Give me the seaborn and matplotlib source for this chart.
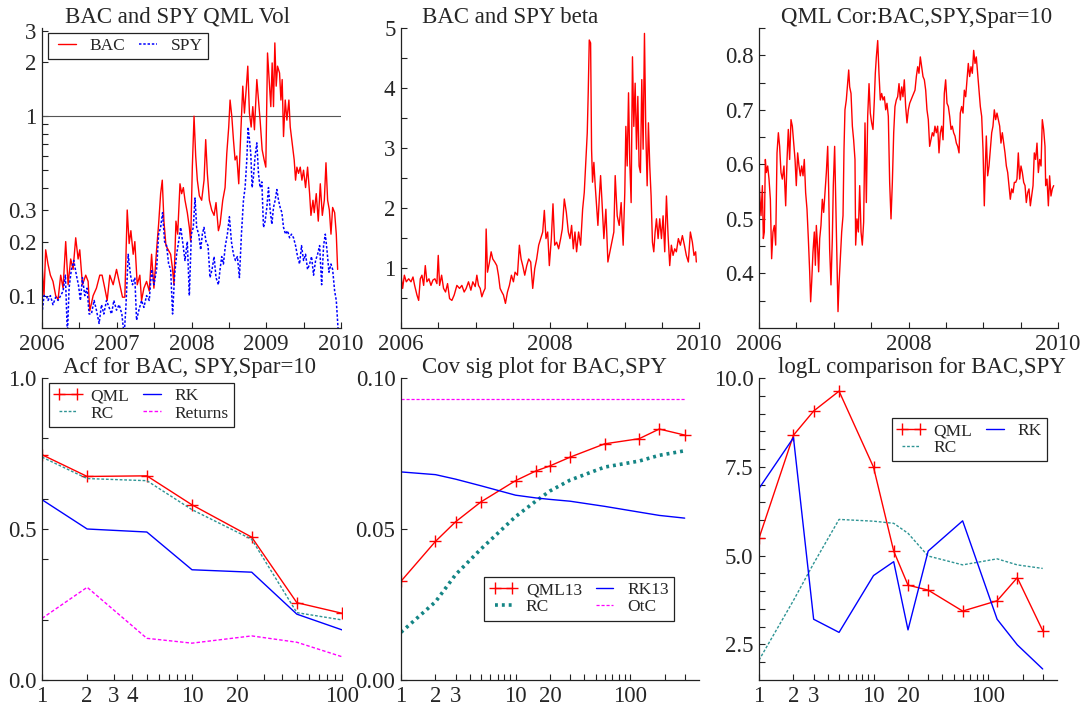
import numpy as np
import pandas as pd
import matplotlib
matplotlib.use("Agg")
import matplotlib.pyplot as plt
import seaborn as sns
from matplotlib.ticker import FixedLocator, FixedFormatter, NullFormatter

sns.set_style("ticks")
plt.rcParams['font.family'] = ['Liberation Serif', 'DejaVu Serif']

# ---------------- data: top row (time in years since start of 2006) ----------------
bac_t = [0.000,0.027,0.049,0.080,0.112,0.147,0.183,0.215,0.250,0.282,
         0.317,0.349,0.384,0.416,0.451,0.483,0.505,0.541,0.585,0.617,
         0.639,0.684,0.728,0.773,0.804,0.840,0.872,0.907,0.952,0.997,
         1.032,1.077,1.108,1.140,1.166,1.189,1.220,1.242,1.274,1.309,
         1.332,1.363,1.399,1.435,1.466,1.497,1.533,1.560,1.587,1.609,
         1.631,1.658,1.689,1.721,1.747,1.765,1.792,1.815,1.846,1.868,
         1.891,1.913,1.944,1.971,1.989,2.011,2.034,2.056,2.078,2.105,
         2.136,2.168,2.190,2.212,2.239,2.270,2.302,2.328,2.360,2.382,
         2.418,2.449,2.472,2.498,2.516,2.539,2.561,2.583,2.606,2.632,
         2.659,2.686,2.708,2.731,2.753,2.775,2.798,2.820,2.842,2.874,
         2.896,2.918,2.945,2.972,2.994,3.017,3.039,3.061,3.079,3.097,
         3.115,3.133,3.151,3.178,3.196,3.213,3.231,3.254,3.276,3.303,
         3.321,3.347,3.374,3.392,3.410,3.432,3.455,3.477,3.499,3.526,
         3.553,3.580,3.598,3.625,3.642,3.669,3.696,3.723,3.750,3.777,
         3.799,3.821,3.844,3.866,3.888,3.915,3.937,3.955]
bac_vol = [0.150,0.10,0.18,0.15,0.13,0.12,0.10,0.095,0.13,0.11,
           0.20,0.115,0.16,0.14,0.21,0.16,0.18,0.115,0.13,0.12,
           0.082,0.10,0.11,0.13,0.13,0.11,0.094,0.13,0.115,0.14,
           0.12,0.098,0.098,0.30,0.195,0.23,0.17,0.20,0.115,0.13,
           0.094,0.11,0.12,0.106,0.17,0.11,0.18,0.25,0.37,0.44,
           0.26,0.19,0.18,0.17,0.14,0.115,0.26,0.22,0.42,0.37,
           0.40,0.34,0.29,0.24,0.20,0.52,1.0,0.60,0.44,0.36,
           0.34,0.44,0.74,0.48,0.34,0.30,0.28,0.33,0.23,0.25,
           0.34,0.40,0.62,0.87,1.23,1.0,0.74,0.57,0.60,0.42,
           0.80,1.47,1.04,1.40,1.90,1.04,0.87,1.13,0.84,1.60,
           1.23,0.95,0.65,0.57,0.52,2.25,1.60,1.13,1.98,1.13,
           2.56,1.47,1.90,1.74,1.23,1.60,0.77,1.23,0.95,1.23,
           0.87,0.71,0.57,0.44,0.52,0.48,0.52,0.44,0.50,0.40,
           0.52,0.37,0.28,0.34,0.29,0.37,0.26,0.42,0.28,0.34,
           0.55,0.34,0.30,0.22,0.31,0.29,0.22,0.14]

spy_t = [0.000,0.027,0.058,0.080,0.112,0.147,0.183,0.215,0.250,0.282,
         0.313,0.340,0.362,0.393,0.425,0.460,0.487,0.514,0.541,0.572,
         0.603,0.630,0.661,0.697,0.728,0.764,0.796,0.827,0.863,0.898,
         0.930,0.961,0.997,1.032,1.068,1.099,1.122,1.153,1.184,1.211,
         1.242,1.265,1.296,1.332,1.363,1.399,1.435,1.466,1.497,1.533,
         1.560,1.587,1.613,1.640,1.667,1.694,1.721,1.747,1.774,1.801,
         1.828,1.855,1.881,1.913,1.944,1.971,1.998,2.024,2.047,2.069,
         2.096,2.123,2.145,2.167,2.194,2.221,2.248,2.275,2.302,2.328,
         2.360,2.382,2.404,2.427,2.453,2.480,2.507,2.534,2.561,2.588,
         2.614,2.641,2.668,2.695,2.717,2.740,2.757,2.775,2.793,2.811,
         2.829,2.851,2.874,2.896,2.918,2.941,2.963,2.985,3.008,3.030,
         3.052,3.075,3.097,3.119,3.142,3.164,3.186,3.209,3.231,3.258,
         3.285,3.312,3.338,3.365,3.392,3.419,3.446,3.472,3.499,3.526,
         3.553,3.580,3.606,3.633,3.660,3.687,3.714,3.741,3.767,3.790,
         3.812,3.839,3.866,3.888,3.915,3.937,3.960]
spy_vol = [0.079,0.10,0.10,0.094,0.10,0.089,0.098,0.094,0.10,0.106,
           0.13,0.060,0.11,0.14,0.157,0.13,0.115,0.094,0.126,0.10,
           0.11,0.079,0.079,0.094,0.083,0.070,0.089,0.079,0.094,0.086,
           0.079,0.094,0.083,0.089,0.079,0.060,0.086,0.17,0.13,0.115,
           0.126,0.073,0.083,0.094,0.086,0.10,0.094,0.14,0.115,0.14,
           0.22,0.24,0.29,0.20,0.19,0.15,0.14,0.079,0.13,0.17,
           0.20,0.24,0.20,0.157,0.20,0.10,0.22,0.24,0.35,0.24,
           0.22,0.18,0.22,0.24,0.20,0.19,0.126,0.14,0.165,0.126,
           0.115,0.14,0.165,0.15,0.19,0.22,0.275,0.20,0.17,0.157,
           0.165,0.126,0.22,0.34,0.40,0.57,0.87,0.74,0.62,0.40,
           0.46,0.60,0.71,0.48,0.40,0.43,0.24,0.26,0.31,0.40,
           0.30,0.25,0.31,0.34,0.39,0.34,0.31,0.29,0.24,0.22,
           0.23,0.21,0.22,0.21,0.19,0.165,0.15,0.19,0.157,0.17,
           0.14,0.15,0.165,0.13,0.157,0.17,0.19,0.115,0.19,0.22,
           0.18,0.135,0.15,0.14,0.106,0.094,0.066]

beta_t = [0.000,0.022,0.045,0.071,0.103,0.134,0.161,0.183,0.214,0.237,
          0.259,0.281,0.304,0.326,0.348,0.375,0.402,0.429,0.455,0.482,
          0.500,0.518,0.545,0.571,0.598,0.625,0.652,0.683,0.714,0.750,
          0.786,0.817,0.848,0.875,0.906,0.938,0.964,0.996,1.018,1.040,
          1.063,1.085,1.107,1.129,1.143,1.161,1.188,1.210,1.232,1.259,
          1.286,1.308,1.330,1.353,1.375,1.402,1.429,1.455,1.482,1.509,
          1.531,1.563,1.589,1.612,1.634,1.661,1.688,1.714,1.741,1.768,
          1.795,1.821,1.848,1.875,1.902,1.924,1.946,1.969,1.991,2.018,
          2.040,2.063,2.089,2.116,2.143,2.165,2.192,2.219,2.246,2.268,
          2.290,2.313,2.335,2.357,2.384,2.411,2.438,2.460,2.482,2.500,
          2.513,2.527,2.545,2.558,2.571,2.589,2.607,2.625,2.643,2.661,
          2.679,2.696,2.723,2.750,2.777,2.804,2.830,2.857,2.875,2.902,
          2.929,2.955,2.982,3.004,3.018,3.036,3.054,3.071,3.089,3.107,
          3.125,3.143,3.161,3.179,3.196,3.214,3.232,3.250,3.268,3.286,
          3.304,3.321,3.339,3.357,3.375,3.393,3.411,3.429,3.451,3.473,
          3.496,3.518,3.540,3.563,3.585,3.607,3.629,3.652,3.674,3.696,
          3.723,3.750,3.777,3.804,3.830,3.857,3.884,3.911,3.933,3.955,
          3.964]
beta_val = [0.88,0.66,0.88,0.77,0.82,0.77,0.85,0.71,0.55,0.46,
            0.82,0.88,0.71,1.04,0.77,0.82,0.71,0.80,0.82,0.74,
            1.21,0.71,0.88,0.66,0.60,0.74,0.49,0.46,0.55,0.71,
            0.66,0.71,0.60,0.66,0.77,0.63,0.77,0.69,0.88,0.71,
            0.66,0.52,0.60,0.66,1.65,0.93,1.10,1.27,1.15,1.10,
            1.04,0.88,0.66,0.60,0.55,0.41,0.60,0.71,0.88,0.77,
            0.93,0.88,1.38,1.15,1.04,0.88,1.04,1.15,1.10,0.66,
            0.99,1.15,1.38,1.49,1.60,1.96,1.49,1.60,1.04,1.49,
            2.07,1.38,1.43,1.32,1.49,1.65,2.15,1.93,1.60,1.49,
            1.71,1.32,1.60,1.27,1.60,1.38,1.98,2.26,2.81,3.25,
            3.92,4.80,4.75,2.98,2.43,2.76,2.37,2.04,1.71,2.15,
            2.54,2.15,1.49,1.98,1.10,1.27,1.43,1.60,2.54,1.87,
            1.71,2.09,1.38,2.26,3.36,2.70,3.92,2.76,2.09,4.52,
            3.36,4.08,2.98,3.86,2.70,2.59,4.14,2.98,4.91,3.25,
            2.37,3.42,2.70,2.20,1.43,1.27,1.60,1.82,1.49,1.82,
            1.49,1.87,1.27,2.20,1.54,1.04,1.38,1.21,1.32,1.27,
            1.49,1.38,1.54,1.38,1.21,1.10,1.60,1.43,1.21,1.27,
            1.10]

cor_t = [0.000,0.013,0.027,0.045,0.058,0.071,0.085,0.098,0.116,0.134,
         0.152,0.169,0.187,0.205,0.223,0.241,0.259,0.276,0.294,0.312,
         0.334,0.357,0.375,0.392,0.410,0.428,0.446,0.464,0.482,0.499,
         0.517,0.535,0.553,0.571,0.589,0.606,0.624,0.642,0.660,0.678,
         0.691,0.705,0.722,0.740,0.754,0.767,0.785,0.798,0.812,0.829,
         0.847,0.865,0.883,0.901,0.919,0.932,0.945,0.963,0.981,0.994,
         1.012,1.026,1.043,1.057,1.070,1.088,1.106,1.124,1.137,1.150,
         1.168,1.186,1.200,1.213,1.231,1.249,1.266,1.284,1.293,1.311,
         1.329,1.347,1.365,1.382,1.400,1.418,1.436,1.454,1.472,1.489,
         1.507,1.525,1.543,1.556,1.570,1.588,1.605,1.623,1.641,1.659,
         1.677,1.695,1.712,1.730,1.748,1.766,1.784,1.802,1.819,1.837,
         1.855,1.873,1.891,1.909,1.926,1.944,1.962,1.980,1.998,2.016,
         2.033,2.051,2.069,2.087,2.105,2.123,2.140,2.158,2.176,2.194,
         2.212,2.230,2.247,2.265,2.283,2.301,2.319,2.337,2.354,2.372,
         2.390,2.408,2.426,2.444,2.462,2.479,2.497,2.515,2.533,2.551,
         2.569,2.586,2.604,2.622,2.640,2.658,2.676,2.693,2.711,2.729,
         2.747,2.765,2.783,2.800,2.818,2.836,2.854,2.872,2.890,2.907,
         2.925,2.943,2.961,2.979,2.997,3.014,3.028,3.041,3.059,3.077,
         3.095,3.113,3.130,3.148,3.166,3.184,3.202,3.220,3.237,3.255,
         3.273,3.291,3.309,3.327,3.344,3.362,3.380,3.398,3.416,3.434,
         3.451,3.469,3.487,3.505,3.523,3.541,3.559,3.576,3.594,3.612,
         3.630,3.648,3.666,3.683,3.701,3.719,3.737,3.755,3.773,3.790,
         3.808,3.826,3.835,3.853,3.871,3.888,3.906,3.924,3.942]
cor_val = [0.570,0.536,0.506,0.561,0.464,0.476,0.609,0.585,0.597,0.573,
           0.536,0.427,0.476,0.488,0.452,0.621,0.658,0.633,0.585,0.573,
           0.597,0.524,0.609,0.664,0.609,0.682,0.670,0.639,0.609,0.561,
           0.621,0.597,0.579,0.597,0.579,0.609,0.548,0.518,0.464,0.403,
           0.348,0.385,0.439,0.476,0.415,0.488,0.445,0.403,0.464,0.488,
           0.536,0.512,0.548,0.585,0.633,0.555,0.445,0.379,0.464,0.561,
           0.633,0.536,0.415,0.330,0.379,0.427,0.476,0.506,0.627,0.700,
           0.718,0.748,0.773,0.742,0.730,0.670,0.645,0.609,0.452,0.500,
           0.476,0.561,0.476,0.452,0.494,0.676,0.530,0.688,0.748,0.694,
           0.676,0.664,0.718,0.767,0.797,0.827,0.767,0.718,0.730,0.718,
           0.724,0.700,0.712,0.688,0.567,0.500,0.567,0.658,0.706,0.718,
           0.724,0.748,0.718,0.742,0.724,0.755,0.706,0.676,0.700,0.712,
           0.718,0.724,0.730,0.736,0.761,0.779,0.767,0.797,0.779,0.761,
           0.755,0.736,0.700,0.682,0.633,0.645,0.658,0.652,0.670,0.658,
           0.670,0.621,0.658,0.670,0.645,0.730,0.755,0.712,0.706,0.688,
           0.664,0.670,0.658,0.652,0.639,0.633,0.621,0.694,0.706,0.694,
           0.736,0.724,0.755,0.785,0.761,0.779,0.767,0.809,0.785,0.797,
           0.767,0.736,0.706,0.688,0.627,0.524,0.597,0.652,0.579,0.597,
           0.627,0.658,0.670,0.700,0.682,0.694,0.682,0.670,0.639,0.658,
           0.639,0.621,0.597,0.585,0.561,0.536,0.555,0.548,0.567,0.567,
           0.573,0.621,0.573,0.597,0.585,0.567,0.561,0.530,0.548,0.555,
           0.524,0.542,0.561,0.621,0.609,0.639,0.585,0.609,0.597,0.682,
           0.664,0.633,0.561,0.573,0.524,0.579,0.542,0.555,0.561]

# ---------------- data: bottom row ----------------
acf_lags = [1, 2, 5, 10, 25, 50, 100]
acf_qml = [0.746, 0.674, 0.676, 0.580, 0.473, 0.256, 0.221]
acf_rc = [0.738, 0.667, 0.660, 0.564, 0.466, 0.223, 0.199]
acf_rk = [0.597, 0.500, 0.490, 0.365, 0.357, 0.218, 0.166]
acf_ret = [0.204, 0.307, 0.138, 0.122, 0.146, 0.125, 0.077]

sig_freq = [1, 2, 3, 5, 10, 15, 20, 30, 60, 120, 180, 300]
sig_qml13 = [0.0327, 0.0459, 0.0524, 0.0590, 0.0660, 0.0692, 0.0709, 0.0738, 0.0782, 0.0799, 0.0831, 0.0811]
sig_rk13 = [0.0689, 0.0680, 0.0665, 0.0643, 0.0612, 0.0603, 0.0598, 0.0592, 0.0575, 0.0556, 0.0545, 0.0536]
sig_rc = [0.0158, 0.0259, 0.0349, 0.0434, 0.0541, 0.0592, 0.0626, 0.0662, 0.0705, 0.0725, 0.0744, 0.0759]
sig_otc = [0.0930] * len(sig_freq)

logl_freq = [1, 2, 3, 5, 10, 15, 20, 30, 60, 120, 180, 300]
logl_qml = [5.49, 8.39, 9.07, 9.63, 7.49, 5.13, 4.17, 4.03, 3.44, 3.73, 4.38, 2.89]
logl_rk = [6.89, 8.32, 3.21, 2.84, 4.44, 4.83, 2.91, 5.13, 5.98, 3.21, 2.49, 1.81]
logl_rc = [2.06, 3.74, 4.78, 6.02, 5.97, 5.91, 5.63, 4.99, 4.74, 4.91, 4.74, 4.64]

assert len(bac_t) == len(bac_vol) and len(spy_t) == len(spy_vol)
assert len(beta_t) == len(beta_val) and len(cor_t) == len(cor_val)

# ---------------- layout ----------------
W, H = 1087, 706
fig = plt.figure(figsize=(W / 100, H / 100), dpi=100)

def add_ax(l, r, t, b):
    return fig.add_axes([l / W, 1 - b / H, (r - l) / W, (b - t) / H])

RED, BLUE, MAG, TEAL = '#FF0000', '#0000FF', '#FF00FF', '#2E9494'
TICK_FS, TITLE_FS, LEG_FS = 16.5, 16.5, 12.5

def style(ax, title, tx=0.5):
    for s in ['top', 'right']:
        ax.spines[s].set_visible(False)
    for s in ['left', 'bottom']:
        ax.spines[s].set_linewidth(0.9)
        ax.spines[s].set_color('#222222')
    ax.tick_params(which='both', direction='in', length=4, width=0.8,
                   labelsize=TICK_FS, pad=4, color='#222222')
    ax.set_xlabel('')
    ax.set_ylabel('')
    ax.set_title(title, fontsize=TITLE_FS, pad=3, x=tx)

def set_ticks(axis, major, labels, minor=None):
    axis.set_major_locator(FixedLocator(major))
    axis.set_major_formatter(FixedFormatter(labels))
    axis.set_minor_locator(FixedLocator(minor if minor is not None else []))
    axis.set_minor_formatter(NullFormatter())

def legend(ax, anchor, ncol=2):
    leg = ax.legend(loc='upper left', bbox_to_anchor=anchor, ncol=ncol, fontsize=LEG_FS,
                    frameon=True, fancybox=False, framealpha=1, edgecolor='#222222',
                    handlelength=1.6, handletextpad=0.5, columnspacing=0.5, numpoints=2,
                    labelspacing=0.05, borderpad=0.3, borderaxespad=0.0)
    leg.get_frame().set_linewidth(0.9)
    return leg

half_years = [2006.5, 2007.5, 2008.5, 2009.5]
plus = dict(marker='+', markersize=9, markeredgewidth=1.0)

# Panel 1: QML vol
ax1 = add_ax(42, 341, 28, 328)
ax1.set_yscale('log')
ax1.axhline(1.0, color='#555555', lw=0.8)
sns.lineplot(x=2006 + np.array(bac_t), y=bac_vol, ax=ax1, color=RED, linewidth=1.0,
             label='BAC', estimator=None, sort=False)
sns.lineplot(x=2006 + np.array(spy_t), y=spy_vol, ax=ax1, color=BLUE, linewidth=1.1,
             linestyle=(0, (1.6, 1.2)), label='SPY', estimator=None, sort=False)
ax1.set_xlim(2006, 2010)
ax1.set_ylim(0.066, 3.1)
style(ax1, 'BAC and SPY QML Vol', 0.452)
set_ticks(ax1.yaxis, [0.1, 0.2, 0.3, 1, 2, 3], ['0.1', '0.2', '0.3', '1', '2', '3'],
          [0.4, 0.5, 0.6, 0.7, 0.8, 0.9])
set_ticks(ax1.xaxis, [2006, 2007, 2008, 2009, 2010], ['2006', '2007', '2008', '2009', '2010'], half_years)
legend(ax1, (0.02, 0.985))

# Panel 2: beta
ax2 = add_ax(401, 699, 28, 328)
sns.lineplot(x=2006 + np.array(beta_t), y=beta_val, ax=ax2, color=RED, linewidth=1.0,
             estimator=None, sort=False, legend=False)
ax2.set_xlim(2006, 2010)
ax2.set_ylim(0, 5)
style(ax2, 'BAC and SPY beta', 0.366)
set_ticks(ax2.yaxis, [1, 2, 3, 4, 5], ['1', '2', '3', '4', '5'], [0.5, 1.5, 2.5, 3.5, 4.5])
set_ticks(ax2.xaxis, [2006, 2008, 2010], ['2006', '2008', '2010'], [2006.5, 2007, 2007.5, 2008.5, 2009, 2009.5])

# Panel 3: correlation
ax3 = add_ax(759, 1058, 28, 328)
sns.lineplot(x=2006 + np.array(cor_t), y=cor_val, ax=ax3, color=RED, linewidth=1.0,
             estimator=None, sort=False, legend=False)
ax3.set_xlim(2006, 2010)
ax3.set_ylim(0.3, 0.85)
style(ax3, 'QML Cor:BAC,SPY,Spar=10', 0.528)
set_ticks(ax3.yaxis, [0.4, 0.5, 0.6, 0.7, 0.8], ['0.4', '0.5', '0.6', '0.7', '0.8'],
          [0.35, 0.45, 0.55, 0.65, 0.75, 0.85])
set_ticks(ax3.xaxis, [2006, 2008, 2010], ['2006', '2008', '2010'], [2006.5, 2007, 2007.5, 2008.5, 2009, 2009.5])

# Panel 4: ACF
ax4 = add_ax(42, 342, 378, 680)
ax4.set_xscale('log')
sns.lineplot(x=acf_lags, y=acf_qml, ax=ax4, color=RED, linewidth=1.0, markeredgecolor=RED, **plus,
             label='QML', estimator=None, sort=False)
sns.lineplot(x=acf_lags, y=acf_rc, ax=ax4, color=TEAL, linewidth=1.0, linestyle=(0, (2, 1.3)),
             label='RC', estimator=None, sort=False)
sns.lineplot(x=acf_lags, y=acf_rk, ax=ax4, color=BLUE, linewidth=1.0,
             label='RK', estimator=None, sort=False)
sns.lineplot(x=acf_lags, y=acf_ret, ax=ax4, color=MAG, linewidth=1.0, linestyle=(0, (2.5, 1.5)),
             label='Returns', estimator=None, sort=False)
ax4.set_xlim(1, 100)
ax4.set_ylim(0, 1)
style(ax4, 'Acf for BAC, SPY,Spar=10', 0.493)
set_ticks(ax4.yaxis, [0.0, 0.5, 1.0], ['0.0', '0.5', '1.0'], [0.2, 0.4, 0.6, 0.8])
set_ticks(ax4.xaxis, [1, 2, 3, 4, 10, 20, 100], ['1', '2', '3', '4', '10', '20', '100'],
          [5, 6, 7, 8, 9, 30, 40, 50, 60, 70, 80, 90])
legend(ax4, (0.023, 0.983))

# Panel 5: covariance signature plot
ax5 = add_ax(401, 699, 378, 680)
ax5.set_xscale('log')
sns.lineplot(x=sig_freq, y=sig_qml13, ax=ax5, color=RED, linewidth=1.0, markeredgecolor=RED, **plus,
             label='QML13', estimator=None, sort=False)
sns.lineplot(x=sig_freq, y=sig_rc, ax=ax5, color='#148585', linewidth=2.6, linestyle=(0, (0.8, 1.1)),
             label='RC', estimator=None, sort=False)
sns.lineplot(x=sig_freq, y=sig_rk13, ax=ax5, color=BLUE, linewidth=1.0,
             label='RK13', estimator=None, sort=False)
sns.lineplot(x=sig_freq, y=sig_otc, ax=ax5, color=MAG, linewidth=0.9, linestyle=(0, (2.5, 1.5)),
             label='OtC', estimator=None, sort=False)
ax5.set_xlim(1, 400)
ax5.set_ylim(0, 0.1)
style(ax5, 'Cov sig plot for BAC,SPY', 0.480)
set_ticks(ax5.yaxis, [0.0, 0.05, 0.10], ['0.00', '0.05', '0.10'])
set_ticks(ax5.xaxis, [1, 2, 3, 10, 20, 100], ['1', '2', '3', '10', '20', '100'],
          [4, 5, 6, 7, 8, 9, 30, 40, 50, 60, 70, 80, 90, 200, 300])
legend(ax5, (0.279, 0.341))

# Panel 6: logL comparison
ax6 = add_ax(759, 1057, 378, 680)
ax6.set_xscale('log')
sns.lineplot(x=logl_freq, y=logl_qml, ax=ax6, color=RED, linewidth=1.0, markeredgecolor=RED, **plus,
             label='QML', estimator=None, sort=False)
sns.lineplot(x=logl_freq, y=logl_rc, ax=ax6, color=TEAL, linewidth=1.0, linestyle=(0, (2, 1.3)),
             label='RC', estimator=None, sort=False)
sns.lineplot(x=logl_freq, y=logl_rk, ax=ax6, color=BLUE, linewidth=1.0,
             label='RK', estimator=None, sort=False)
ax6.set_xlim(1, 400)
ax6.set_ylim(1.5, 10)
style(ax6, 'logL comparison for BAC,SPY', 0.547)
set_ticks(ax6.yaxis, [2.5, 5.0, 7.5, 10.0], ['2.5', '5.0', '7.5', '10.0'],
          [2.0, 3.0, 3.5, 4.0, 4.5, 5.5, 6.0, 6.5, 7.0, 8.0, 8.5, 9.0, 9.5])
set_ticks(ax6.xaxis, [1, 2, 3, 10, 20, 100], ['1', '2', '3', '10', '20', '100'],
          [4, 5, 6, 7, 8, 9, 30, 40, 50, 60, 70, 80, 90, 200, 300])
legend(ax6, (0.446, 0.868))

fig.savefig('out.png', dpi=100)
